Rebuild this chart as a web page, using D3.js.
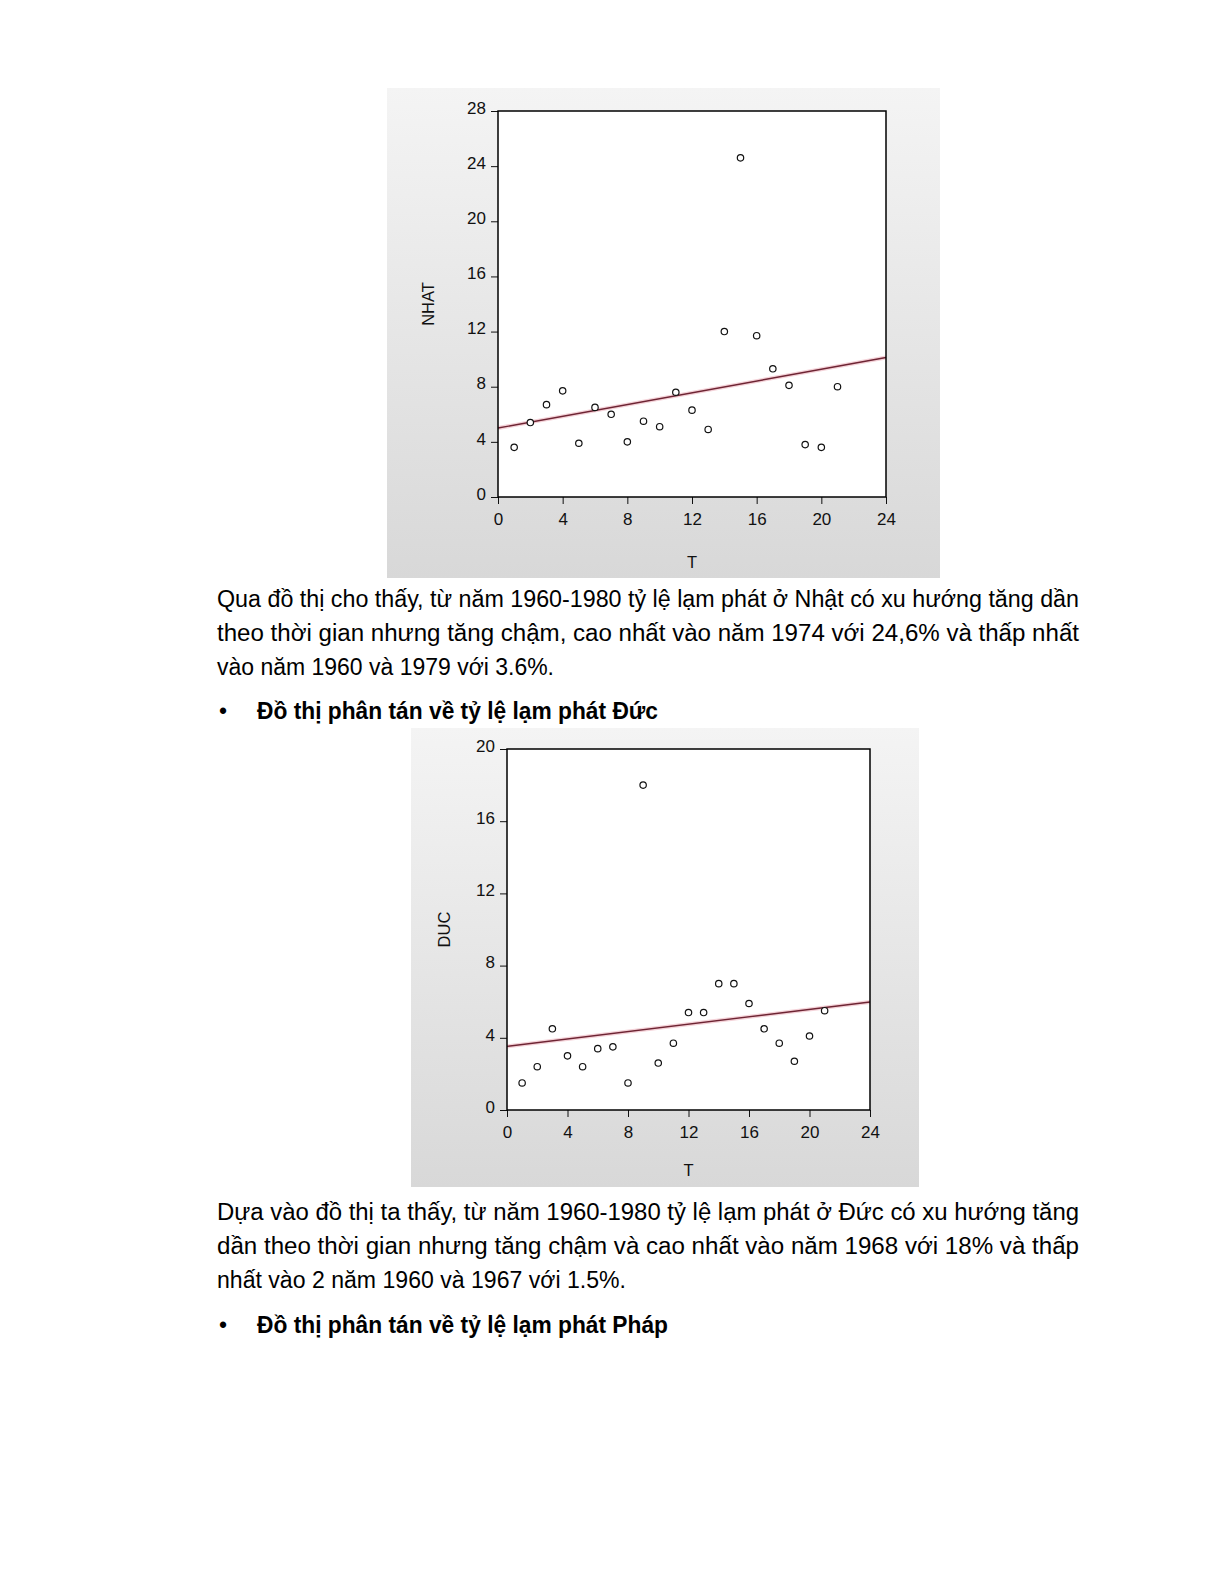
<!DOCTYPE html>
<html>
<head>
<meta charset="utf-8">
<script src="https://cdn.jsdelivr.net/npm/d3@7"></script>
<style>
  body { margin: 0; background: #fff; }
  svg { display: block; }
</style>
</head>
<body>
<script>
// year index T (1 = 1960 ... 21 = 1980)
var tValues = [1, 2, 3, 4, 5, 6, 7, 8, 9, 10, 11, 12, 13, 14, 15, 16, 17, 18, 19, 20, 21];
// inflation Japan (NHAT)
var nhatValues = [3.6, 5.4, 6.7, 7.7, 3.9, 6.5, 6.0, 4.0, 5.5, 5.1, 7.6, 6.3, 4.9, 12.0, 24.6, 11.7, 9.3, 8.1, 3.8, 3.6, 8.0];
// inflation Germany (DUC)
var ducValues = [1.5, 2.4, 4.5, 3.0, 2.4, 3.4, 3.5, 1.5, 18.0, 2.6, 3.7, 5.4, 5.4, 7.0, 7.0, 5.9, 4.5, 3.7, 2.7, 4.1, 5.5];
// tick labels
var tTicks = [0, 4, 8, 12, 16, 20, 24];
var nhatTicks = [0, 4, 8, 12, 16, 20, 24, 28];
var ducTicks = [0, 4, 8, 12, 16, 20];

// paragraph lines of the page
var para1 = ["Qua đồ thị cho thấy, từ năm 1960-1980 tỷ lệ lạm phát ở Nhật có xu hướng tăng dần",
  "theo thời gian nhưng tăng chậm, cao nhất vào năm 1974 với 24,6% và thấp nhất",
  "vào năm 1960 và 1979 với 3.6%."];
var para2 = ["Dựa vào đồ thị ta thấy, từ năm 1960-1980 tỷ lệ lạm phát ở Đức có xu hướng tăng",
  "dần theo thời gian nhưng tăng chậm và cao nhất vào năm 1968 với 18% và thấp",
  "nhất vào 2 năm 1960 và 1967 với 1.5%."];
var bullets = ["Đồ thị phân tán về tỷ lệ lạm phát Đức", "Đồ thị phân tán về tỷ lệ lạm phát Pháp"];

var W = 1224, H = 1584;

var svg = d3.select("body")
  .append("svg")
  .attr("width", W)
  .attr("height", H);

svg.append("rect")
  .attr("width", W)
  .attr("height", H)
  .attr("fill", "#ffffff");

// grey eviews style background gradient
var grad = svg.append("defs")
  .append("linearGradient")
  .attr("id", "bg")
  .attr("x1", "0%").attr("y1", "0%")
  .attr("x2", "0%").attr("y2", "100%");
grad.append("stop").attr("offset", "0%").attr("stop-color", "#f4f4f4");
grad.append("stop").attr("offset", "100%").attr("stop-color", "#d8d8d8");

// least squares line through the points
function fitLine(xs, ys) {
  var mx = d3.mean(xs), my = d3.mean(ys);
  var sxy = 0, sxx = 0;
  for (var i = 0; i < xs.length; i++) {
    sxy += (xs[i] - mx) * (ys[i] - my);
    sxx += (xs[i] - mx) * (xs[i] - mx);
  }
  var b = sxy / sxx;
  return function(x) { return my + b * (x - mx); };
}

function makeChart(opt) {
  var g = svg.append("g");

  g.append("rect")
    .attr("x", opt.box[0])
    .attr("y", opt.box[1])
    .attr("width", opt.box[2])
    .attr("height", opt.box[3])
    .attr("fill", "url(#bg)");

  var xScale = d3.scaleLinear()
    .domain([0, 24])
    .range([opt.left, opt.right]);

  var yScale = d3.scaleLinear()
    .domain([0, opt.yMax])
    .range([opt.bottom, opt.top]);

  // white plot area
  g.append("rect")
    .attr("x", opt.left)
    .attr("y", opt.top)
    .attr("width", opt.right - opt.left)
    .attr("height", opt.bottom - opt.top)
    .attr("fill", "#ffffff");

  var yAxis = d3.axisLeft(yScale)
    .tickValues(opt.yTicks)
    .tickSize(7)
    .tickPadding(5)
    .tickFormat(d3.format("d"));

  var xAxis = d3.axisBottom(xScale)
    .tickValues(tTicks)
    .tickSize(7)
    .tickPadding(9)
    .tickFormat(d3.format("d"));

  var ya = g.append("g")
    .attr("transform", "translate(" + opt.left + ",0)")
    .call(yAxis);
  var xa = g.append("g")
    .attr("transform", "translate(0," + opt.bottom + ")")
    .call(xAxis);

  [ya, xa].forEach(function(a) {
    a.select(".domain").remove();
    a.selectAll("line").attr("stroke", "#111");
    a.selectAll("text")
      .attr("fill", "#111")
      .style("font-family", "'Liberation Sans', Arial, sans-serif")
      .style("font-size", "17px");
  });
  ya.selectAll("text").attr("dy", "0.13em");

  // regression line, pink halo then dark red
  var f = fitLine(tValues, opt.values);
  var lineData = [0, 24].map(function(x) { return [x, f(x)]; });
  var line = d3.line()
    .x(function(d) { return xScale(d[0]); })
    .y(function(d) { return yScale(d[1]); });

  g.append("path")
    .datum(lineData)
    .attr("d", line)
    .attr("stroke", "#f4d2d8")
    .attr("stroke-width", 4)
    .attr("fill", "none");
  g.append("path")
    .datum(lineData)
    .attr("d", line)
    .attr("stroke", "#6e2433")
    .attr("stroke-width", 1.4)
    .attr("fill", "none");

  // scatter circles
  g.selectAll("circle.pt")
    .data(opt.values)
    .enter()
    .append("circle")
    .attr("class", "pt")
    .attr("cx", function(d, i) { return xScale(tValues[i]); })
    .attr("cy", function(d) { return yScale(d); })
    .attr("r", 3.2)
    .attr("fill", "#ffffff")
    .attr("stroke", "#111")
    .attr("stroke-width", 1.2);

  // frame
  g.append("rect")
    .attr("x", opt.left)
    .attr("y", opt.top)
    .attr("width", opt.right - opt.left)
    .attr("height", opt.bottom - opt.top)
    .attr("fill", "none")
    .attr("stroke", "#000")
    .attr("stroke-width", 1.5);

  // axis titles
  g.append("text")
    .attr("transform", "translate(" + (opt.left - opt.yTitleOff) + "," + ((opt.top + opt.bottom) / 2) + ") rotate(-90)")
    .attr("text-anchor", "middle")
    .attr("dy", "0.35em")
    .style("font-family", "'Liberation Sans', Arial, sans-serif")
    .style("font-size", "16.5px")
    .attr("fill", "#111")
    .text(opt.yTitle);

  g.append("text")
    .attr("x", (opt.left + opt.right) / 2)
    .attr("y", opt.bottom + opt.xTitleOff)
    .attr("text-anchor", "middle")
    .attr("dy", "0.35em")
    .style("font-family", "'Liberation Sans', Arial, sans-serif")
    .style("font-size", "16.5px")
    .attr("fill", "#111")
    .text("T");
}

makeChart({
  box: [387, 88, 553, 490],
  left: 498, right: 886, top: 111, bottom: 497,
  yMax: 28, yTicks: nhatTicks, values: nhatValues,
  yTitle: "NHAT", yTitleOff: 70, xTitleOff: 65
});

makeChart({
  box: [411, 728, 508, 459],
  left: 507, right: 870, top: 749, bottom: 1110,
  yMax: 20, yTicks: ducTicks, values: ducValues,
  yTitle: "DUC", yTitleOff: 63, xTitleOff: 60
});

// body text, each line stretched to the justified width
var bodyFont = "'Liberation Sans Narrow', 'Liberation Sans', Arial, sans-serif";

function textLine(str, x, y, len, bold) {
  svg.append("text")
    .attr("x", x)
    .attr("y", y)
    .attr("textLength", len)
    .attr("lengthAdjust", "spacingAndGlyphs")
    .style("font-family", bodyFont)
    .style("font-size", "23px")
    .style("font-weight", bold ? "bold" : "normal")
    .attr("fill", "#000")
    .text(str);
}

textLine(para1[0], 217, 607, 862);
textLine(para1[1], 217, 641, 862);
textLine(para1[2], 217, 675, 337);

svg.append("text").attr("x", 219).attr("y", 719)
  .style("font-family", bodyFont).style("font-size", "23px").text("•");
textLine(bullets[0], 257, 719, 401, true);

textLine(para2[0], 217, 1220, 862);
textLine(para2[1], 217, 1254, 862);
textLine(para2[2], 217, 1288, 409);

svg.append("text").attr("x", 219).attr("y", 1333)
  .style("font-family", bodyFont).style("font-size", "23px").text("•");
textLine(bullets[1], 257, 1333, 411, true);
</script>
</body>
</html>
